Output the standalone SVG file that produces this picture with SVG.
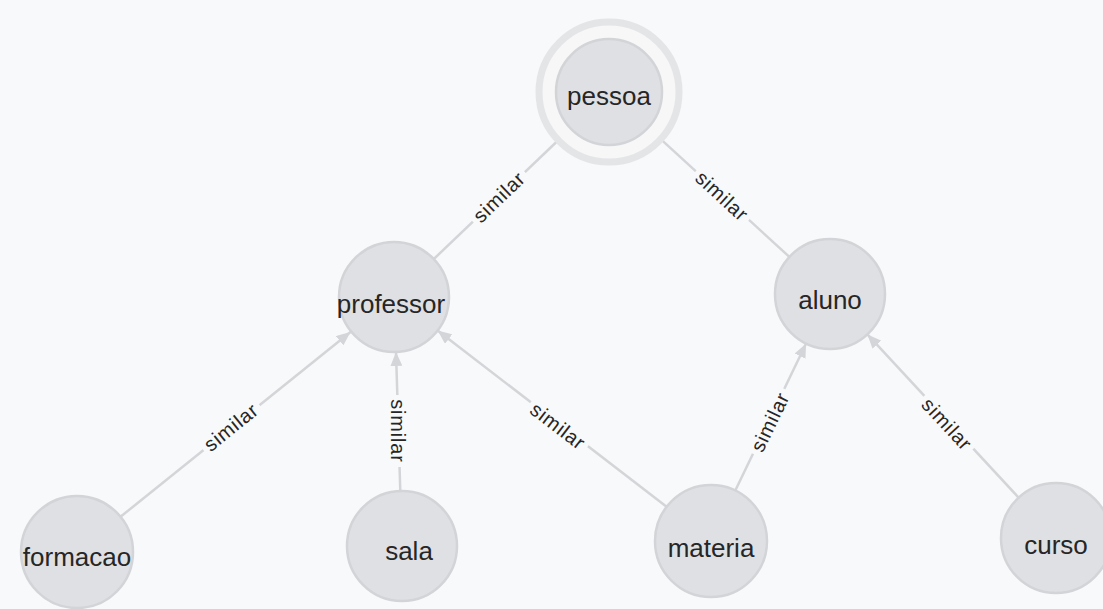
<svg xmlns="http://www.w3.org/2000/svg" width="1103" height="609" viewBox="0 0 1103 609">
<defs>
<style>
.bg{fill:#f8f9fa}
.node{fill:#dfe0e3;stroke:#d2d4d7;stroke-width:2.5}
.ring{fill:#f7f7f8;stroke:#e4e5e7;stroke-width:7}
.ntext{font-family:"Liberation Sans",Arial,sans-serif;font-size:26px;fill:#262626;text-anchor:middle;dominant-baseline:central}
.edge{stroke:#d3d5d8;stroke-width:2.5;fill:none}
.ltext{font-family:"Liberation Sans",Arial,sans-serif;font-size:20px;fill:#262626;text-anchor:middle;dominant-baseline:central;letter-spacing:0.8px}
.lbg{fill:#f8f9fa}
</style>
<marker id="arr" viewBox="0 0 14 12" refX="14" refY="6" markerWidth="14" markerHeight="12" markerUnits="userSpaceOnUse" orient="auto">
<path d="M0,0 L14,6 L0,12 z" fill="#d3d5d8"/>
</marker>
</defs>
<rect class="bg" x="0" y="0" width="1103" height="609"/>
<g id="connectors">
<g id="e-professor-pessoa">
<line class="edge" x1="433.8" y1="259.0" x2="558.0" y2="140.5"/>
<g transform="translate(499,197) rotate(-43.6)"><rect class="lbg" x="-36" y="-11" width="72" height="22"/><text class="ltext" x="0" y="0">similar</text></g>
</g>
<g id="e-aluno-pessoa">
<line class="edge" x1="789.4" y1="256.9" x2="660.7" y2="139.2"/>
<g transform="translate(722,196) rotate(42.4)"><rect class="lbg" x="-36" y="-11" width="72" height="22"/><text class="ltext" x="0" y="0">similar</text></g>
</g>
<g id="e-formacao-professor">
<line class="edge" x1="120.5" y1="516.8" x2="350.5" y2="332.0" marker-end="url(#arr)"/>
<g transform="translate(231,427) rotate(-39)"><rect class="lbg" x="-36" y="-11" width="72" height="22"/><text class="ltext" x="0" y="0">similar</text></g>
</g>
<g id="e-sala-professor">
<line class="edge" x1="400.3" y1="491.0" x2="396.0" y2="352.0" marker-end="url(#arr)"/>
<g transform="translate(398,431) rotate(90)"><rect class="lbg" x="-36" y="-11" width="72" height="22"/><text class="ltext" x="0" y="0">similar</text></g>
</g>
<g id="e-materia-professor">
<line class="edge" x1="666.6" y1="506.8" x2="437.6" y2="330.5" marker-end="url(#arr)"/>
<g transform="translate(558,426) rotate(37.6)"><rect class="lbg" x="-36" y="-11" width="72" height="22"/><text class="ltext" x="0" y="0">similar</text></g>
</g>
<g id="e-materia-aluno">
<line class="edge" x1="735.3" y1="490.5" x2="806.1" y2="343.5" marker-end="url(#arr)"/>
<g transform="translate(770,422) rotate(-64.3)"><rect class="lbg" x="-36" y="-11" width="72" height="22"/><text class="ltext" x="0" y="0">similar</text></g>
</g>
<g id="e-curso-aluno">
<line class="edge" x1="1018.6" y1="497.6" x2="867.4" y2="334.4" marker-end="url(#arr)"/>
<g transform="translate(947,424) rotate(47.2)"><rect class="lbg" x="-36" y="-11" width="72" height="22"/><text class="ltext" x="0" y="0">similar</text></g>
</g>
</g>
<g id="node-pessoa">
<circle class="ring" cx="609" cy="92" r="70"/>
<circle class="node" cx="609" cy="92" r="53"/>
<text class="ntext" x="609" y="96">pessoa</text>
</g>
<g id="node-professor">
<circle class="node" cx="394" cy="297" r="55"/>
<text class="ntext" x="391" y="304">professor</text>
</g>
<g id="node-aluno">
<circle class="node" cx="830" cy="294" r="55"/>
<text class="ntext" x="830" y="300">aluno</text>
</g>
<g id="node-formacao">
<circle class="node" cx="77" cy="552" r="56"/>
<text class="ntext" x="77" y="557">formacao</text>
</g>
<g id="node-sala">
<circle class="node" cx="402" cy="546" r="55"/>
<text class="ntext" x="409" y="551">sala</text>
</g>
<g id="node-materia">
<circle class="node" cx="711" cy="541" r="56"/>
<text class="ntext" x="711" y="548">materia</text>
</g>
<g id="node-curso">
<circle class="node" cx="1056" cy="538" r="55"/>
<text class="ntext" x="1056" y="545">curso</text>
</g>
</svg>
